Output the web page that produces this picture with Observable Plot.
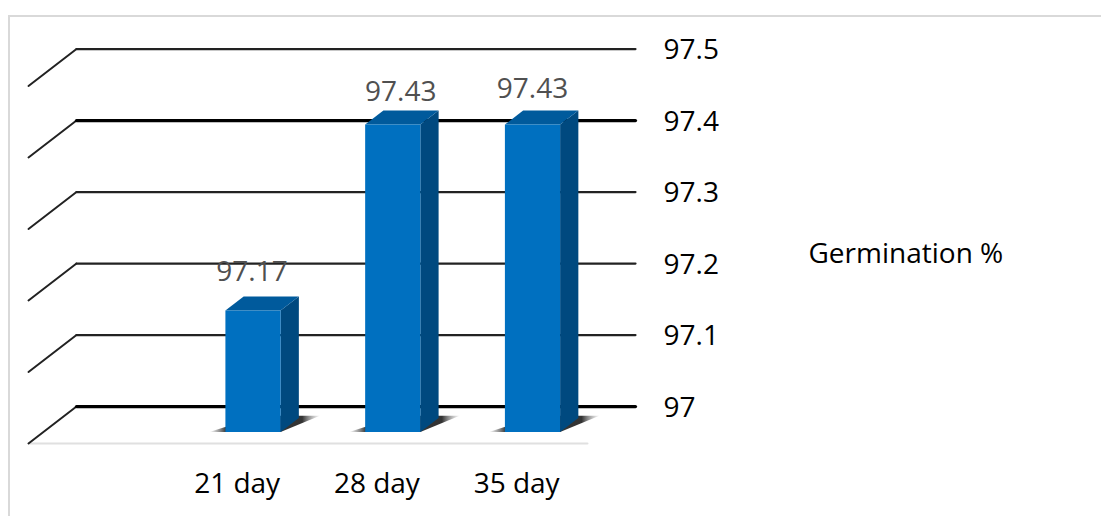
<!DOCTYPE html>
<html>
<head>
<meta charset="utf-8">
<script src="https://cdn.jsdelivr.net/npm/d3@7"></script>
<script src="https://cdn.jsdelivr.net/npm/@observablehq/plot@0.6"></script>
<style>
  html, body { margin: 0; padding: 0; background: #fff; overflow: hidden; }
  #frame { position: absolute; left: 7.5px; top: 14.5px; width: 1200px; height: 600px;
           border-left: 2px solid #d9d9d9; border-top: 2px solid #d9d9d9; }
  #chart { position: absolute; left: 0; top: 0; }
  #chart svg { display: block; background: transparent; }
</style>
</head>
<body>
<div id="frame"></div>
<div id="chart"></div>
<script>
// Germination percentage after each storage period
const categories = ["21 day", "28 day", "35 day"];
const germination = [97.17, 97.43, 97.43];
const ticks = [97, 97.1, 97.2, 97.3, 97.4, 97.5];
const heavyTicks = [97, 97.4];
const seriesName = "Germination %";

// Oblique projection: depth 0 is the front of the floor, depth 1 the back wall.
// The category axis has a leading empty slot, so bars sit in slots 1 to 3.
const slotCount = 4;
const depthX = 0.3435;   // category units per unit of depth
const depthY = 0.0517;   // percentage points per unit of depth
const barFront = 0.31, barBack = 0.69, barWidth = 0.395;
const project = (x, v, d) => ({x: x + d * depthX, y: v + d * depthY});

const base = ticks[0];
const bars = categories.map((name, i) => ({name, value: germination[i], slot: i + 1.5}));
const poly = (id, pts) => pts.map((p) => ({id, ...project(...p)}));

const fronts = [], tops = [], sides = [], shadows = [];
for (const b of bars) {
  const l = b.slot - barWidth / 2, r = b.slot + barWidth / 2, v = b.value;
  fronts.push(...poly(b.name, [[l, base, barFront], [r, base, barFront], [r, v, barFront], [l, v, barFront]]));
  tops.push(...poly(b.name, [[l, v, barFront], [r, v, barFront], [r, v, barBack], [l, v, barBack]]));
  sides.push(...poly(b.name, [[r, base, barFront], [r, base, barBack], [r, v, barBack], [r, v, barFront]]));
  shadows.push(...poly(b.name, [[l - 0.115, base, barFront], [r, base, barFront], [r + 0.13, base, barBack + 0.06], [l + 0.1, base, barBack + 0.06]]));
}

// Gridlines run along the back wall; thin strokes fold forward along the side wall
const sideWall = ticks.flatMap((t) => poly(t, [[0, t, 0], [0, t, 1]]));
const backWall = ticks.flatMap((t) => poly(t, [[0, t, 1], [slotCount, t, 1]]));
const isHeavy = (d) => heavyTicks.includes(d.id);
const floorEdge = poly("floor", [[0, base, 0], [slotCount, base, 0]]);

const tickLabels = ticks.map((t) => ({...project(slotCount, t, 1), text: String(t)}));
const catLabels = bars.map((b) => ({x: b.slot, y: base, text: b.name}));

// Value labels sit a little above each bar's top face
const valueNudge = {"21 day": -1, "28 day": 8, "35 day": 0};
const valueRise = {"21 day": -38, "28 day": -33, "35 day": -36};
const valueLabels = bars.map((b) => ({...project(b.slot, b.value, barFront), name: b.name, text: b.value.toFixed(2)}));

const font = "'Open Sans', sans-serif";
const labelSize = 28;

// Floor shadow fades out at both ends of its footprint
const shadowGradient = () => {
  const ns = "http://www.w3.org/2000/svg";
  const defs = document.createElementNS(ns, "defs");
  const g = document.createElementNS(ns, "linearGradient");
  g.setAttribute("id", "floor-shadow");
  for (const [o, c, a] of [[0, "#666", 0], [0.15, "#3a3a3a", 1], [0.84, "#333", 1], [1, "#999", 0.1]]) {
    const s = document.createElementNS(ns, "stop");
    s.setAttribute("offset", o);
    s.setAttribute("stop-color", c);
    s.setAttribute("stop-opacity", a);
    g.appendChild(s);
  }
  defs.appendChild(g);
  return defs;
};

const chart = Plot.plot({
  width: 1101,
  height: 516,
  marginLeft: 28,
  marginRight: 514,
  marginTop: 85.5,
  marginBottom: 73,
  style: {background: "transparent", overflow: "visible"},
  x: {type: "linear", domain: [0, slotCount], axis: null},
  y: {type: "linear", domain: [97, 97.5], axis: null},
  marks: [
    shadowGradient,
    Plot.line(floorEdge, {x: "x", y: "y", stroke: "#e0e0e0", strokeWidth: 2}),
    Plot.line(sideWall, {x: "x", y: "y", z: "id", stroke: "#222", strokeWidth: 2}),
    Plot.line(backWall.filter((d) => !isHeavy(d)), {x: "x", y: "y", z: "id", stroke: "#222", strokeWidth: 2.2}),
    Plot.line(backWall.filter(isHeavy), {x: "x", y: "y", z: "id", stroke: "#000", strokeWidth: 3.2}),
    Plot.line(shadows, {x: "x", y: "y", z: "id", fill: "url(#floor-shadow)", stroke: "none"}),
    Plot.line(sides, {x: "x", y: "y", z: "id", fill: "#00497f", stroke: "none"}),
    Plot.line(tops, {x: "x", y: "y", z: "id", fill: "#005a9c", stroke: "none"}),
    Plot.line(fronts, {x: "x", y: "y", z: "id", fill: "#0070c0", stroke: "none"}),
    Plot.text(tickLabels, {x: "x", y: "y", text: "text", textAnchor: "start", dx: 28, dy: 1, fontSize: labelSize, fontFamily: font, fill: "#000"}),
    Plot.text(catLabels, {x: "x", y: "y", text: "text", dx: -1, dy: 41, fontSize: labelSize, fontFamily: font, fill: "#000"}),
    ...categories.map((name) =>
      Plot.text(valueLabels.filter((d) => d.name === name), {x: "x", y: "y", text: "text", dx: valueNudge[name], dy: valueRise[name], fontSize: labelSize, fontFamily: font, fill: "#505050"})
    ),
    Plot.text([seriesName], {frameAnchor: "top-left", dx: 780, dy: 157.5, textAnchor: "start", fontSize: labelSize, fontFamily: font, fill: "#000"})
  ]
});
document.getElementById("chart").appendChild(chart);
</script>
</body>
</html>
